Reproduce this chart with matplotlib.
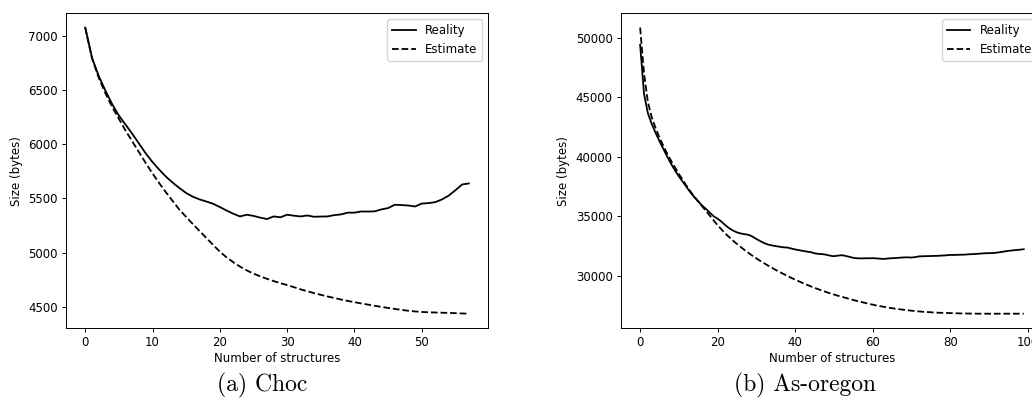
import matplotlib
matplotlib.use("Agg")
import matplotlib.pyplot as plt

# ---------------- data ----------------
choc_x = list(range(58))
choc_reality = [7077, 6800, 6630, 6495, 6370, 6265, 6180, 6095, 6005, 5915,
                5835, 5765, 5700, 5645, 5595, 5549, 5515, 5490, 5471, 5450,
                5420, 5388, 5358, 5333, 5349, 5338, 5322, 5309, 5333, 5325,
                5349, 5340, 5333, 5342, 5330, 5332, 5333, 5345, 5352, 5368,
                5368, 5379, 5378, 5380, 5398, 5410, 5441, 5438, 5434, 5425,
                5452, 5456, 5465, 5490, 5525, 5575, 5628, 5638]
choc_estimate = [7077, 6795, 6615, 6470, 6345, 6235, 6125, 6025, 5925, 5825,
                 5730, 5640, 5555, 5475, 5395, 5328, 5262, 5198, 5134, 5070,
                 5008, 4955, 4910, 4870, 4835, 4805, 4780, 4757, 4736, 4717,
                 4699, 4680, 4660, 4642, 4625, 4609, 4594, 4580, 4566, 4553,
                 4541, 4530, 4519, 4508, 4498, 4488, 4479, 4470, 4462, 4456,
                 4451, 4448, 4446, 4444, 4442, 4440, 4437, 4435]

oregon_x = list(range(100))
oregon_reality = [49400, 45300, 43650, 42750, 42000, 41300, 40650, 40000, 39400, 38850,
                  38350, 37900, 37450, 37000, 36600, 36250, 35900, 35620, 35300, 35000,
                  34800, 34550, 34250, 34000, 33800, 33650, 33560, 33500, 33450, 33300,
                  33100, 32920, 32760, 32630, 32560, 32500, 32450, 32400, 32380, 32300,
                  32220, 32160, 32100, 32040, 32000, 31900, 31850, 31830, 31780, 31700,
                  31650, 31700, 31740, 31680, 31600, 31520, 31480, 31470, 31480, 31480,
                  31490, 31470, 31440, 31430, 31460, 31490, 31500, 31530, 31550, 31560,
                  31540, 31580, 31640, 31650, 31660, 31670, 31680, 31690, 31710, 31730,
                  31760, 31760, 31770, 31780, 31790, 31820, 31830, 31850, 31880, 31900,
                  31910, 31920, 31950, 32000, 32050, 32100, 32140, 32170, 32200, 32240]
oregon_estimate = [50840, 47000, 44600, 43300, 42400, 41600, 40900, 40250, 39650, 39100,
                   38550, 38050, 37550, 37080, 36650, 36250, 35850, 35450, 35050, 34650,
                   34250, 33900, 33550, 33250, 32950, 32680, 32420, 32160, 31920, 31690,
                   31470, 31260, 31060, 30870, 30690, 30500, 30330, 30160, 30000, 29840,
                   29690, 29540, 29400, 29260, 29130, 29000, 28880, 28760, 28650, 28540,
                   28440, 28340, 28250, 28160, 28070, 27980, 27900, 27820, 27740, 27660,
                   27590, 27520, 27460, 27400, 27340, 27290, 27240, 27200, 27160, 27120,
                   27080, 27050, 27020, 26990, 26970, 26950, 26930, 26910, 26900, 26890,
                   26880, 26870, 26860, 26850, 26845, 26840, 26835, 26830, 26830, 26830,
                   26830, 26830, 26830, 26830, 26830, 26830, 26830, 26830, 26830, 26830]

series_labels = ["Reality", "Estimate"]
xlabel = "Number of structures"
ylabel = "Size (bytes)"
captions = ["(a) Choc", "(b) As-oregon"]

# ---------------- figure ----------------
fs = 8.5
plt.rcParams.update({
    "font.size": fs,
    "axes.linewidth": 0.7,
    "xtick.major.size": 3.0,
    "ytick.major.size": 3.0,
    "xtick.major.width": 0.7,
    "ytick.major.width": 0.7,
    "xtick.major.pad": 3.0,
    "ytick.major.pad": 3.0,
    "lines.linewidth": 1.3,
    "legend.fontsize": fs,
})

fig = plt.figure(figsize=(10.32, 4.19), dpi=100)
ax1 = fig.add_axes([0.0640, 0.2172, 0.4089, 0.7511])
ax2 = fig.add_axes([0.6017, 0.2172, 0.4089, 0.7511])

for ax, x, r, e in [(ax1, choc_x, choc_reality, choc_estimate),
                    (ax2, oregon_x, oregon_reality, oregon_estimate)]:
    ax.plot(x, r, color="black", linestyle="-", label=series_labels[0])
    ax.plot(x, e, color="black", linestyle="--", label=series_labels[1])
    ax.set_xlabel(xlabel, labelpad=2)
    ax.set_ylabel(ylabel, labelpad=4)
    ax.legend(loc="upper right")

ax1.set_xticks([0, 10, 20, 30, 40, 50])
ax1.set_yticks([4500, 5000, 5500, 6000, 6500, 7000])
ax2.set_xticks([0, 20, 40, 60, 80, 100])
ax2.set_yticks([30000, 35000, 40000, 45000, 50000])

fig.text(0.254, 0.080, captions[0], ha="center", va="center",
         fontsize=17, family="cmr10")
fig.text(0.780, 0.080, captions[1], ha="center", va="center",
         fontsize=17, family="cmr10")

fig.savefig("out.png", dpi=100)
